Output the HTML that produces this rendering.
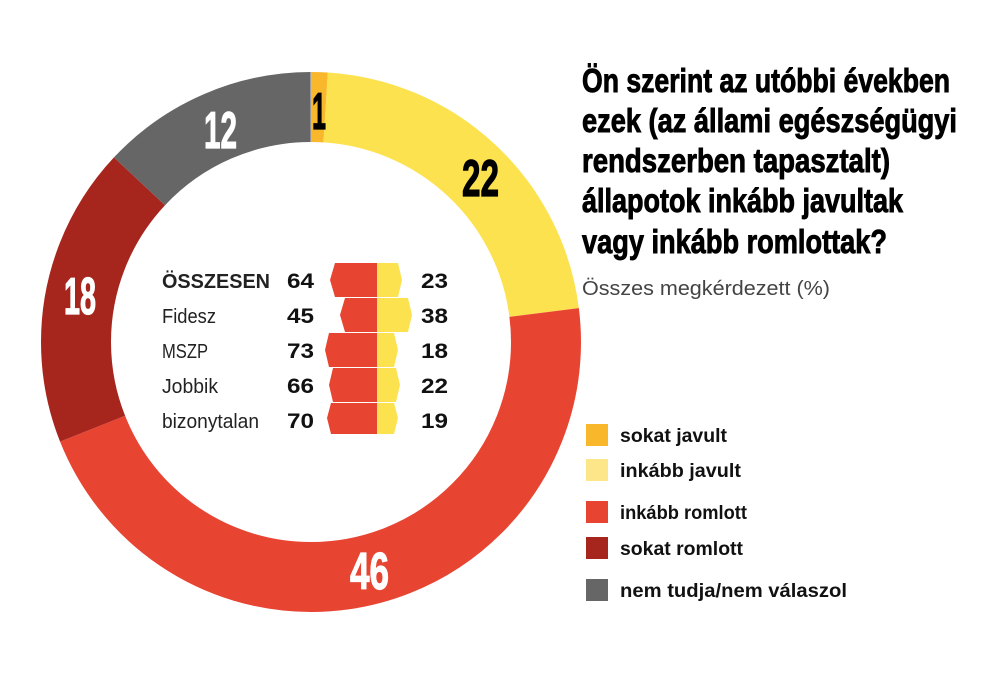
<!DOCTYPE html>
<html><head><meta charset="utf-8"><style>
html,body{margin:0;padding:0;background:#fff;}
svg{display:block;}
.t{font-family:"Liberation Sans Narrow","Liberation Sans",sans-serif;font-weight:bold;}
.n{font-family:"Liberation Sans Narrow","Liberation Sans",sans-serif;}
</style></head><body>
<svg width="1000" height="682" viewBox="0 0 1000 682" xmlns="http://www.w3.org/2000/svg">
<g transform="rotate(-90 311 342)" fill="none" stroke-width="70">
<circle cx="311" cy="342" r="235" pathLength="100" stroke="#f9b82c" stroke-dasharray="1 100" stroke-dashoffset="0"/>
<circle cx="311" cy="342" r="235" pathLength="100" stroke="#fde24f" stroke-dasharray="22 100" stroke-dashoffset="-1"/>
<circle cx="311" cy="342" r="235" pathLength="100" stroke="#e84432" stroke-dasharray="46 100" stroke-dashoffset="-23"/>
<circle cx="311" cy="342" r="235" pathLength="100" stroke="#a6261e" stroke-dasharray="18 100" stroke-dashoffset="-69"/>
<circle cx="311" cy="342" r="235" pathLength="100" stroke="#666666" stroke-dasharray="13 100" stroke-dashoffset="-87"/>
</g>
<g class="t" font-size="52" stroke-width="1.2">
<text x="312" y="129" textLength="14" lengthAdjust="spacingAndGlyphs" fill="#000" stroke="#000">1</text>
<text x="462" y="196" textLength="37" lengthAdjust="spacingAndGlyphs" fill="#000" stroke="#000">22</text>
<text x="204" y="148" textLength="33" lengthAdjust="spacingAndGlyphs" fill="#fff" stroke="#fff">12</text>
<text x="64" y="314" textLength="32" lengthAdjust="spacingAndGlyphs" fill="#fff" stroke="#fff">18</text>
<text x="350" y="589" textLength="39" lengthAdjust="spacingAndGlyphs" fill="#fff" stroke="#fff">46</text>
</g>
<g>
<path d="M335 263 H377 V297 H335 L330 280 Z" fill="#e84432"/><path d="M377 263 H398 L402 280 L398 297 H377 Z" fill="#fde24f"/>
<path d="M345 298 H377 V332 H345 L340 315 Z" fill="#e84432"/><path d="M377 298 H408 L412 315 L408 332 H377 Z" fill="#fde24f"/>
<path d="M329 333 H377 V367 H329 L325 350 Z" fill="#e84432"/><path d="M377 333 H394 L398 350 L394 367 H377 Z" fill="#fde24f"/>
<path d="M333 368 H377 V402 H333 L329 385 Z" fill="#e84432"/><path d="M377 368 H396 L400 385 L396 402 H377 Z" fill="#fde24f"/>
<path d="M331 403 H377 V434 H331 L327 418 Z" fill="#e84432"/><path d="M377 403 H394 L398 418 L394 434 H377 Z" fill="#fde24f"/>
</g>
<g font-size="20" fill="#222">
<text class="t" x="162" y="288" textLength="108" lengthAdjust="spacingAndGlyphs" font-family="Liberation Mono">ÖSSZESEN</text>
<text class="n" x="162" y="323" textLength="54" lengthAdjust="spacingAndGlyphs">Fidesz</text>
<text class="n" x="162" y="358" textLength="46" lengthAdjust="spacingAndGlyphs">MSZP</text>
<text class="n" x="162" y="393" textLength="56" lengthAdjust="spacingAndGlyphs">Jobbik</text>
<text class="n" x="162" y="428" textLength="97" lengthAdjust="spacingAndGlyphs">bizonytalan</text>
</g>
<g class="t" font-size="21" fill="#111">
<text x="287" y="288" textLength="27" lengthAdjust="spacingAndGlyphs">64</text>
<text x="287" y="323" textLength="27" lengthAdjust="spacingAndGlyphs">45</text>
<text x="287" y="358" textLength="27" lengthAdjust="spacingAndGlyphs">73</text>
<text x="287" y="393" textLength="27" lengthAdjust="spacingAndGlyphs">66</text>
<text x="287" y="428" textLength="27" lengthAdjust="spacingAndGlyphs">70</text>
<text x="421" y="288" textLength="27" lengthAdjust="spacingAndGlyphs">23</text>
<text x="421" y="323" textLength="27" lengthAdjust="spacingAndGlyphs">38</text>
<text x="421" y="358" textLength="27" lengthAdjust="spacingAndGlyphs">18</text>
<text x="421" y="393" textLength="27" lengthAdjust="spacingAndGlyphs">22</text>
<text x="421" y="428" textLength="27" lengthAdjust="spacingAndGlyphs">19</text>
</g>
<g class="t" font-size="33" fill="#000" stroke="#000" stroke-width="0.9">
<text x="582" y="92" textLength="368" lengthAdjust="spacingAndGlyphs">Ön szerint az utóbbi években</text>
<text x="582" y="132" textLength="375" lengthAdjust="spacingAndGlyphs">ezek (az állami egészségügyi</text>
<text x="582" y="172" textLength="308" lengthAdjust="spacingAndGlyphs">rendszerben tapasztalt)</text>
<text x="582" y="212" textLength="321" lengthAdjust="spacingAndGlyphs">állapotok inkább javultak</text>
<text x="582" y="253" textLength="305" lengthAdjust="spacingAndGlyphs">vagy inkább romlottak?</text>
</g>
<text class="n" x="582" y="295" font-size="20" fill="#444" textLength="248" lengthAdjust="spacingAndGlyphs">Összes megkérdezett (%)</text>
<rect x="586" y="424" width="22" height="22" fill="#f9b82c"/>
<rect x="586" y="459" width="22" height="22" fill="#fde68a"/>
<rect x="586" y="501" width="22" height="22" fill="#e84432"/>
<rect x="586" y="537" width="22" height="22" fill="#a6261e"/>
<rect x="586" y="579" width="22" height="22" fill="#666"/>
<g class="t" font-size="19" fill="#111">
<text x="620" y="442" textLength="107" lengthAdjust="spacingAndGlyphs">sokat javult</text>
<text x="620" y="477" textLength="121" lengthAdjust="spacingAndGlyphs">inkább javult</text>
<text x="620" y="519" textLength="127" lengthAdjust="spacingAndGlyphs">inkább romlott</text>
<text x="620" y="555" textLength="123" lengthAdjust="spacingAndGlyphs">sokat romlott</text>
<text x="620" y="597" textLength="227" lengthAdjust="spacingAndGlyphs">nem tudja/nem válaszol</text>
</g>
</svg>
</body></html>
